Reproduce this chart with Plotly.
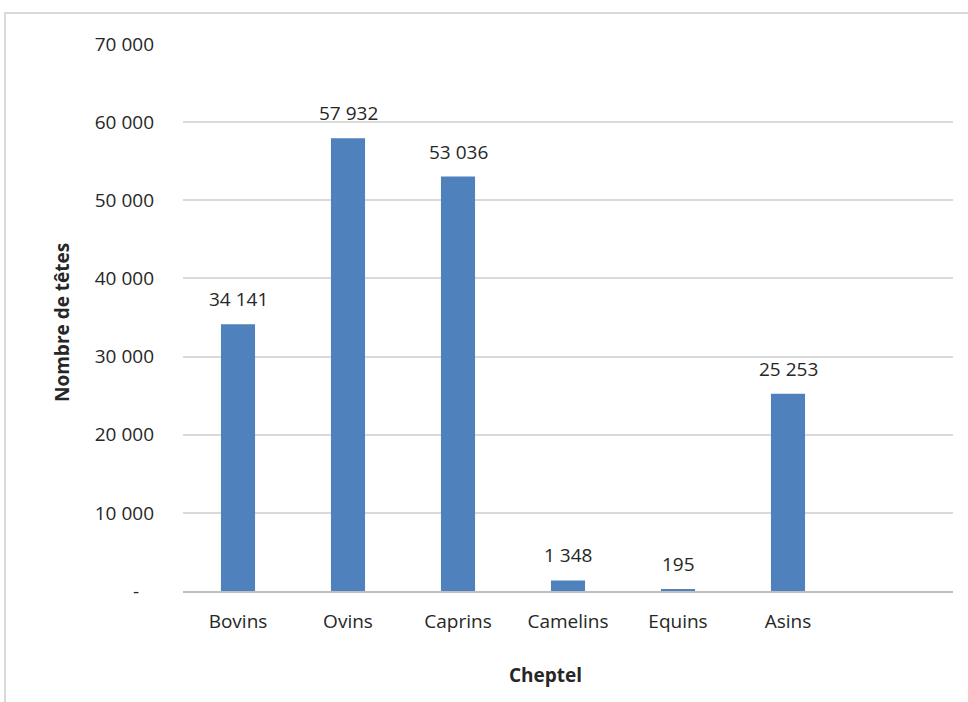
import plotly.graph_objects as go

categories = ["Bovins", "Ovins", "Caprins", "Camelins", "Equins", "Asins"]
values = [34141, 57932, 53036, 1348, 195, 25253]
tick_vals = [0, 10000, 20000, 30000, 40000, 50000, 60000, 70000]
tick_text = ["-\u00a0\u00a0\u00a0", "10 000", "20 000", "30 000", "40 000", "50 000", "60 000", "70 000"]
x_title = "Cheptel"
y_title = "Nombre de têtes"

FONT = "Open Sans"
TXT = "#262626"

fig = go.Figure()
fig.add_trace(go.Bar(
    x=categories, y=values,
    marker=dict(color="#4f81bd", line=dict(width=0)),
    hoverinfo="x+y",
))

for c, v in zip(categories, values):
    fig.add_annotation(
        x=c, y=v, xref="x", yref="y",
        text=f"{v:,}".replace(",", " "),
        showarrow=False, yanchor="bottom", yshift=10,
        font=dict(family=FONT, size=19, color=TXT),
    )

L, R, T, B = 183, 15, 44, 111
W, H = 968, 702
pw, ph = W - L - R, H - T - B

def px(xp):
    return (xp - L) / pw

def py(yp):
    return (H - B - yp) / ph

fig.add_annotation(x=px(545), y=py(675), xref="paper", yref="paper",
                   xanchor="center", yanchor="middle",
                   text=f"<b>{x_title}</b>", showarrow=False,
                   font=dict(family=FONT, size=19, color=TXT))
fig.add_annotation(x=px(62), y=py(323), xref="paper", yref="paper",
                   xanchor="center", yanchor="middle",
                   text=f"<b>{y_title}</b>", showarrow=False, textangle=-90,
                   font=dict(family=FONT, size=19, color=TXT))

fig.add_shape(type="rect", xref="paper", yref="paper",
              x0=px(5), x1=px(975), y0=py(712), y1=py(13),
              line=dict(color="#d9d9d9", width=2), layer="below")

fig.update_layout(
    width=W, height=H,
    margin=dict(l=L, r=R, t=T, b=B, pad=0),
    paper_bgcolor="white", plot_bgcolor="white",
    showlegend=False,
    bargap=0.69,
    font=dict(family=FONT, size=19, color=TXT),
    xaxis=dict(
        type="category", range=[-0.5, 6.5],
        showgrid=False, showline=True, linecolor="#bfbfbf", linewidth=1.5,
        ticks="", ticklabelstandoff=12,
        tickfont=dict(family=FONT, size=19, color=TXT),
        zeroline=False,
    ),
    yaxis=dict(
        range=[0, 70000], tickvals=tick_vals, ticktext=tick_text,
        showgrid=True, gridcolor="#d9d9d9", gridwidth=1.5,
        zeroline=False, showline=False, ticks="",
        ticklabelstandoff=28,
        tickfont=dict(family=FONT, size=19, color=TXT),
    ),
)

fig.write_html("out.html")
